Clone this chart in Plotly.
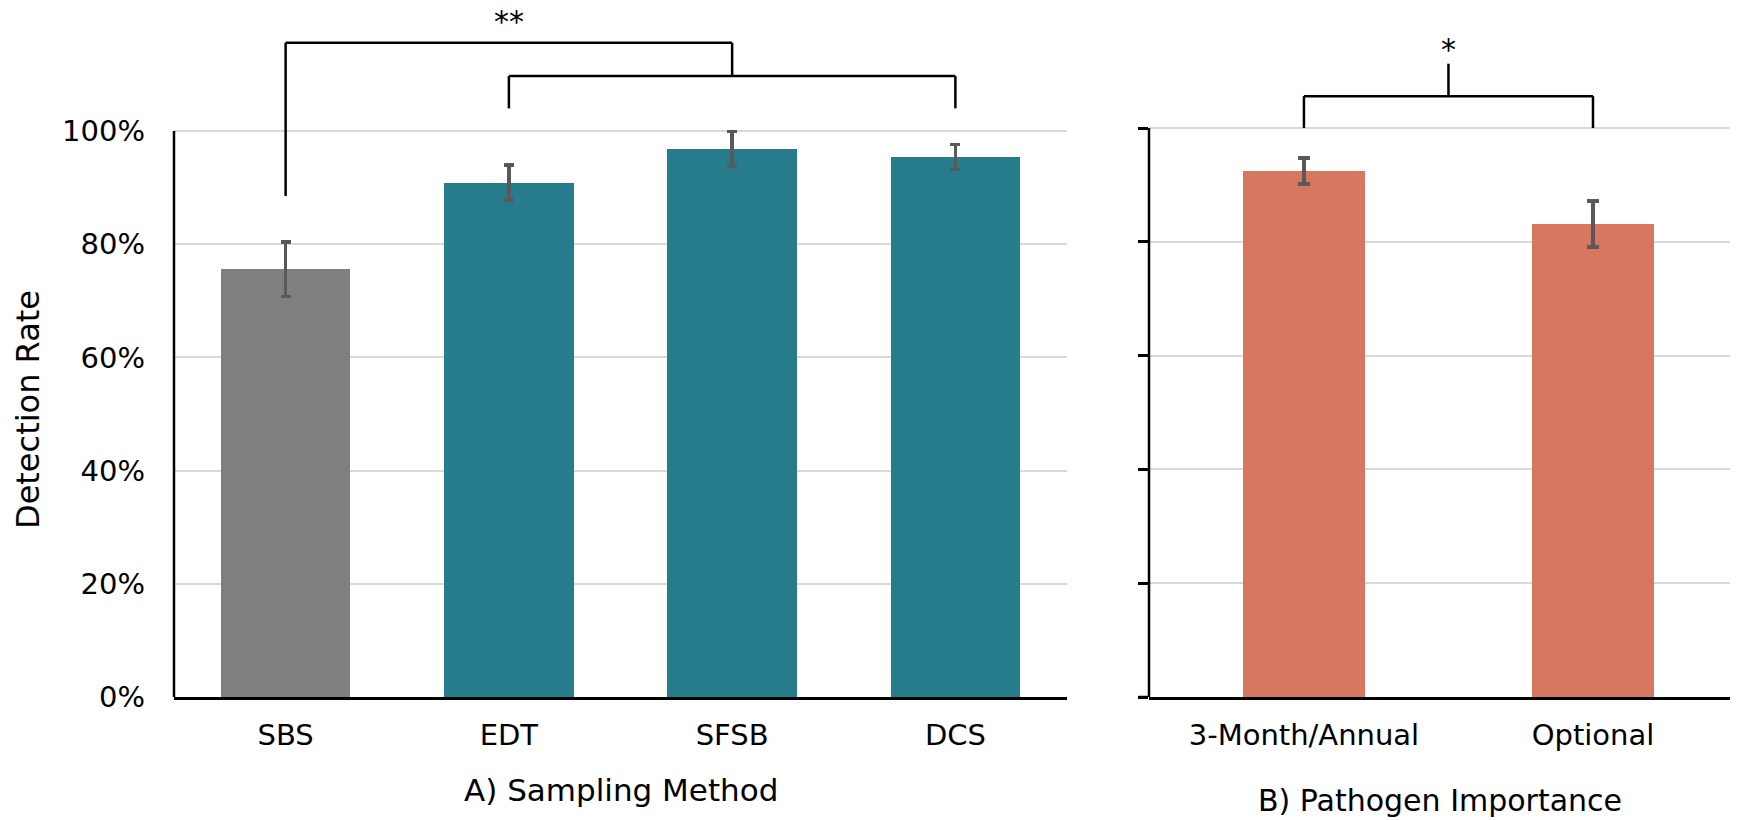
import plotly.graph_objects as go

# ---- data ----
methods = ["SBS", "EDT", "SFSB", "DCS"]
method_rate = [75.6, 90.9, 96.8, 95.4]
method_err = [4.8, 3.1, 3.1, 2.2]
method_colors = ["#7f7f7f", "#267c8b", "#267c8b", "#267c8b"]

importance = ["3-Month/Annual", "Optional"]
importance_rate = [92.4, 83.1]
importance_err = [2.3, 4.1]
importance_color = "#d8775f"

y_ticks = [0, 20, 40, 60, 80, 100]
y_tick_text = ["0%", "20%", "40%", "60%", "80%", "100%"]

# significance brackets (levels in % units)
a_outer_level, a_inner_level, a_inner_drop, a_sbs_drop, a_star_level = 115.6, 109.7, 104.0, 88.5, 119.3
b_level, b_drop, b_stem, b_star_level = 105.6, 100.0, 111.3, 113.8

FONT = "DejaVu Sans, Verdana, sans-serif"
W, H = 1742, 820

fig = go.Figure()
fig.add_trace(go.Bar(
    x=list(range(len(methods))), y=method_rate, marker_color=method_colors,
    width=0.58, xaxis="x", yaxis="y",
    error_y=dict(type="data", array=method_err, color="#595959", thickness=3.5, width=5),
    showlegend=False))
fig.add_trace(go.Bar(
    x=list(range(len(importance))), y=importance_rate, marker_color=importance_color,
    width=0.42, xaxis="x2", yaxis="y2",
    error_y=dict(type="data", array=importance_err, color="#595959", thickness=4, width=6),
    showlegend=False))

left_dom = [174 / W, 1067 / W]
right_dom = [1149 / W, 1730 / W]
ydom = [(H - 697) / H, (H - 10) / H]

common_y = dict(tickvals=y_ticks, showgrid=True, gridcolor="#d9d9d9", gridwidth=1.5,
                zeroline=False, showline=False, automargin=False, domain=ydom)

fig.update_layout(
    template="none", width=W, height=H,
    margin=dict(l=0, r=0, t=0, b=0, autoexpand=False),
    paper_bgcolor="white", plot_bgcolor="white",
    font=dict(family=FONT, color="black", size=29),
    bargap=0,
    xaxis=dict(domain=left_dom, range=[-0.5, 3.5], tickvals=list(range(len(methods))),
               ticktext=methods, showgrid=False, zeroline=False, showline=True,
               linecolor="black", linewidth=2.5, ticks="", ticklabelstandoff=10,
               automargin=False, tickfont=dict(size=29)),
    yaxis=dict(range=[0, 687 / 5.66], ticktext=y_tick_text, ticks="",
               tickfont=dict(size=29), ticklabelstandoff=28, **common_y),
    xaxis2=dict(domain=right_dom, range=[-0.536, 1.474], tickvals=list(range(len(importance))),
                ticktext=importance, showgrid=False, zeroline=False, showline=True,
                linecolor="black", linewidth=2.5, ticks="", ticklabelstandoff=10,
                automargin=False, anchor="y2", tickfont=dict(size=29)),
    yaxis2=dict(range=[0, 687 / 5.69], showticklabels=False, ticks="outside",
                ticklen=10, tickwidth=2.5, tickcolor="black", anchor="x2", **common_y),
)

line_k = dict(color="black", width=2.5)
shapes = [
    # axis lines (only up to 100%)
    dict(type="line", xref="x domain", yref="y", x0=0, x1=0, y0=0, y1=100, line=line_k),
    dict(type="line", xref="x2 domain", yref="y2", x0=0, x1=0, y0=0, y1=100, line=line_k),
    dict(type="line", xref="x2 domain", yref="y2", x0=-0.018, x1=0, y0=0, y1=0, line=line_k),
    # panel A brackets
    dict(type="line", xref="x", yref="y", x0=0, x1=2, y0=a_outer_level, y1=a_outer_level, line=line_k),
    dict(type="line", xref="x", yref="y", x0=0, x1=0, y0=a_outer_level, y1=a_sbs_drop, line=line_k),
    dict(type="line", xref="x", yref="y", x0=2, x1=2, y0=a_outer_level, y1=a_inner_level, line=line_k),
    dict(type="line", xref="x", yref="y", x0=1, x1=3, y0=a_inner_level, y1=a_inner_level, line=line_k),
    dict(type="line", xref="x", yref="y", x0=1, x1=1, y0=a_inner_level, y1=a_inner_drop, line=line_k),
    dict(type="line", xref="x", yref="y", x0=3, x1=3, y0=a_inner_level, y1=a_inner_drop, line=line_k),
    # panel B bracket
    dict(type="line", xref="x2", yref="y2", x0=0, x1=1, y0=b_level, y1=b_level, line=line_k),
    dict(type="line", xref="x2", yref="y2", x0=0, x1=0, y0=b_level, y1=b_drop, line=line_k),
    dict(type="line", xref="x2", yref="y2", x0=1, x1=1, y0=b_level, y1=b_drop, line=line_k),
    dict(type="line", xref="x2", yref="y2", x0=0.5, x1=0.5, y0=b_level, y1=b_stem, line=line_k),
]
fig.update_layout(shapes=shapes)

fig.add_annotation(x=1, y=a_star_level, xref="x", yref="y", text="**", showarrow=False,
                   yanchor="middle", font=dict(size=30))
fig.add_annotation(x=0.5, y=b_star_level, xref="x2", yref="y2", text="*", showarrow=False,
                   yanchor="middle", font=dict(size=30))
fig.add_annotation(x=sum(left_dom) / 2, y=(H - 790) / H, xref="paper", yref="paper",
                   text="A) Sampling Method", showarrow=False, yanchor="middle",
                   xanchor="center", font=dict(size=31))
fig.add_annotation(x=sum(right_dom) / 2, y=(H - 800) / H, xref="paper", yref="paper",
                   text="B) Pathogen Importance", showarrow=False, yanchor="middle",
                   xanchor="center", font=dict(size=30))
fig.add_annotation(x=28 / W, y=(H - 410) / H, xref="paper", yref="paper",
                   text="Detection Rate", showarrow=False, textangle=-90,
                   xanchor="center", yanchor="middle", font=dict(size=32))

fig.write_html("out.html", config={"displayModeBar": False},
               post_script="document.body.style.margin='0';")
